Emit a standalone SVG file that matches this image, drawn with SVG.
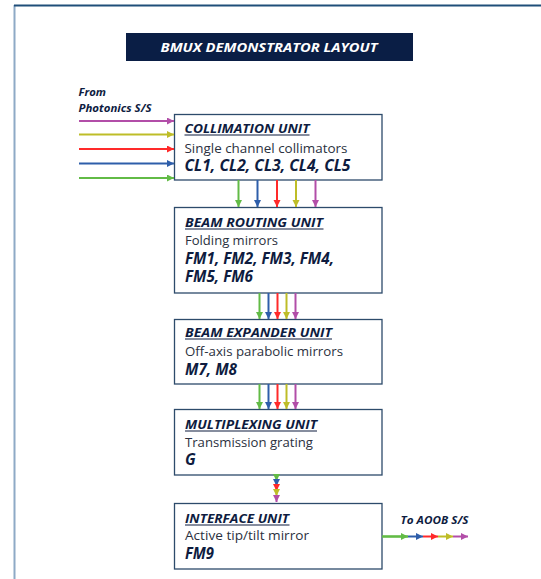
<svg xmlns="http://www.w3.org/2000/svg" width="541" height="579" viewBox="0 0 541 579">
<style>
.box{fill:#fff;stroke:#2d4b6b;stroke-width:1.3}
.t{font-family:"Open Sans","Noto Sans","Liberation Sans",sans-serif;fill:#0e1c3f}
.h{font-weight:bold;font-style:italic;font-size:12.5px}
.r{font-size:13.5px;fill:#2b3140}
.b{font-weight:bold;font-style:italic;font-size:15.5px}
.s{font-weight:bold;font-style:italic;font-size:10px}
.ul{stroke:#0e1c3f;stroke-width:1.2}
.a{stroke-width:2;fill:none}
.g{stroke:#62bb46}.bl{stroke:#2e5eaa}.rd{stroke:#ff2a2a}.y{stroke:#bebd28}.m{stroke:#b24ea8}
</style>
<defs>
<marker id="ag" markerUnits="userSpaceOnUse" markerWidth="8" markerHeight="8" refX="7" refY="3.5" orient="auto"><path d="M0,0 L7,3.5 L0,7 z" fill="#62bb46"/></marker>
<marker id="ab" markerUnits="userSpaceOnUse" markerWidth="8" markerHeight="8" refX="7" refY="3.5" orient="auto"><path d="M0,0 L7,3.5 L0,7 z" fill="#2e5eaa"/></marker>
<marker id="ar" markerUnits="userSpaceOnUse" markerWidth="8" markerHeight="8" refX="7" refY="3.5" orient="auto"><path d="M0,0 L7,3.5 L0,7 z" fill="#ff2a2a"/></marker>
<marker id="ay" markerUnits="userSpaceOnUse" markerWidth="8" markerHeight="8" refX="7" refY="3.5" orient="auto"><path d="M0,0 L7,3.5 L0,7 z" fill="#bebd28"/></marker>
<marker id="am" markerUnits="userSpaceOnUse" markerWidth="8" markerHeight="8" refX="7" refY="3.5" orient="auto"><path d="M0,0 L7,3.5 L0,7 z" fill="#b24ea8"/></marker>
</defs>
<rect width="541" height="579" fill="#fff"/>
<line x1="14.5" y1="5" x2="14.5" y2="579" stroke="#8eaac6" stroke-width="2"/>
<line x1="14" y1="5.5" x2="541" y2="5.5" stroke="#1f4e79" stroke-width="2"/>

<g id="title">
<rect x="126" y="33" width="287" height="28" fill="#0a1e45"/>
<text x="160.5" y="51.5" class="t" style="font-weight:bold;font-style:italic;font-size:12.5px;fill:#fff" textLength="217" lengthAdjust="spacingAndGlyphs">BMUX DEMONSTRATOR  LAYOUT</text>
</g>

<g id="from-label">
<text x="78.5" y="96" class="t s" textLength="27.5" lengthAdjust="spacingAndGlyphs">From</text>
<text x="78.5" y="111.5" class="t s" textLength="73" lengthAdjust="spacingAndGlyphs">Photonics S/S</text>
</g>

<g id="collimation">
<rect x="174.5" y="114.5" width="207.5" height="65.5" class="box"/>
<text x="184.5" y="132.5" class="t h" textLength="125" lengthAdjust="spacingAndGlyphs">COLLIMATION UNIT</text>
<line x1="184.5" y1="135" x2="309.5" y2="135" class="ul"/>
<text x="184.5" y="152.5" class="t r" textLength="163" lengthAdjust="spacingAndGlyphs">Single channel collimators</text>
<text x="184.5" y="171" class="t b" textLength="166" lengthAdjust="spacingAndGlyphs">CL1, CL2, CL3, CL4, CL5</text>
</g>

<g id="beam-routing">
<rect x="174.5" y="207.5" width="207.5" height="85.5" class="box"/>
<text x="185" y="226.5" class="t h" textLength="138" lengthAdjust="spacingAndGlyphs">BEAM ROUTING UNIT</text>
<line x1="185" y1="229" x2="323.5" y2="229" class="ul"/>
<text x="185" y="245" class="t r" textLength="93" lengthAdjust="spacingAndGlyphs">Folding mirrors</text>
<text x="185" y="264" class="t b" textLength="149" lengthAdjust="spacingAndGlyphs">FM1, FM2, FM3, FM4,</text>
<text x="185" y="281.5" class="t b" textLength="68" lengthAdjust="spacingAndGlyphs">FM5, FM6</text>
</g>

<g id="beam-expander">
<rect x="174.5" y="319.5" width="207.5" height="64.5" class="box"/>
<text x="185" y="336.5" class="t h" textLength="147" lengthAdjust="spacingAndGlyphs">BEAM EXPANDER UNIT</text>
<line x1="185" y1="339" x2="332" y2="339" class="ul"/>
<text x="185" y="355.5" class="t r" textLength="158" lengthAdjust="spacingAndGlyphs">Off-axis parabolic mirrors</text>
<text x="185" y="375" class="t b" textLength="52" lengthAdjust="spacingAndGlyphs">M7, M8</text>
</g>

<g id="multiplexing">
<rect x="174.5" y="409.5" width="207.5" height="65.5" class="box"/>
<text x="185" y="428.5" class="t h" textLength="132" lengthAdjust="spacingAndGlyphs">MULTIPLEXING UNIT</text>
<line x1="185" y1="431" x2="317" y2="431" class="ul"/>
<text x="185" y="446.5" class="t r" textLength="128" lengthAdjust="spacingAndGlyphs">Transmission grating</text>
<text x="185" y="465" class="t b">G</text>
</g>

<g id="interface">
<rect x="174.5" y="503.5" width="207.5" height="65.5" class="box"/>
<text x="185" y="522.5" class="t h" textLength="104" lengthAdjust="spacingAndGlyphs">INTERFACE UNIT</text>
<line x1="185" y1="525" x2="289.5" y2="525" class="ul"/>
<text x="185" y="540" class="t r" textLength="124" lengthAdjust="spacingAndGlyphs">Active tip/tilt mirror</text>
<text x="185" y="558.5" class="t b" textLength="29" lengthAdjust="spacingAndGlyphs">FM9</text>
</g>

<g id="to-label">
<text x="400.5" y="523.5" class="t s" textLength="68" lengthAdjust="spacingAndGlyphs">To AOOB S/S</text>
</g>

<g id="connectors">
<line x1="79" y1="121" x2="174" y2="121" class="a m" marker-end="url(#am)"/>
<line x1="79" y1="134.5" x2="174" y2="134.5" class="a y" marker-end="url(#ay)"/>
<line x1="79" y1="149" x2="174" y2="149" class="a rd" marker-end="url(#ar)"/>
<line x1="79" y1="163.5" x2="174" y2="163.5" class="a bl" marker-end="url(#ab)"/>
<line x1="79" y1="178" x2="174" y2="178" class="a g" marker-end="url(#ag)"/>

<line x1="238.5" y1="180" x2="238.5" y2="207" class="a g" marker-end="url(#ag)"/>
<line x1="257.5" y1="180" x2="257.5" y2="207" class="a bl" marker-end="url(#ab)"/>
<line x1="277" y1="180" x2="277" y2="207" class="a rd" marker-end="url(#ar)"/>
<line x1="296" y1="180" x2="296" y2="207" class="a y" marker-end="url(#ay)"/>
<line x1="315.5" y1="180" x2="315.5" y2="207" class="a m" marker-end="url(#am)"/>

<line x1="259.5" y1="293" x2="259.5" y2="319" class="a g" marker-end="url(#ag)"/>
<line x1="268.5" y1="293" x2="268.5" y2="319" class="a bl" marker-end="url(#ab)"/>
<line x1="277.5" y1="293" x2="277.5" y2="319" class="a rd" marker-end="url(#ar)"/>
<line x1="286.5" y1="293" x2="286.5" y2="319" class="a y" marker-end="url(#ay)"/>
<line x1="295.5" y1="293" x2="295.5" y2="319" class="a m" marker-end="url(#am)"/>

<line x1="259.5" y1="384" x2="259.5" y2="409" class="a g" marker-end="url(#ag)"/>
<line x1="268.5" y1="384" x2="268.5" y2="409" class="a bl" marker-end="url(#ab)"/>
<line x1="277.5" y1="384" x2="277.5" y2="409" class="a rd" marker-end="url(#ar)"/>
<line x1="286.5" y1="384" x2="286.5" y2="409" class="a y" marker-end="url(#ay)"/>
<line x1="295.5" y1="384" x2="295.5" y2="409" class="a m" marker-end="url(#am)"/>

<line x1="276.5" y1="475" x2="276.5" y2="481" class="a g" marker-end="url(#ag)"/>
<line x1="276.5" y1="481" x2="276.5" y2="486" class="a bl" marker-end="url(#ab)"/>
<line x1="276.5" y1="486" x2="276.5" y2="491" class="a rd" marker-end="url(#ar)"/>
<line x1="276.5" y1="491" x2="276.5" y2="496" class="a y" marker-end="url(#ay)"/>
<line x1="276.5" y1="496" x2="276.5" y2="502" class="a m" marker-end="url(#am)"/>

<line x1="382" y1="536.5" x2="408" y2="536.5" class="g" stroke-width="2.6" marker-end="url(#ag)"/>
<line x1="408" y1="536.5" x2="423" y2="536.5" class="a bl" marker-end="url(#ab)"/>
<line x1="423" y1="536.5" x2="438" y2="536.5" class="a rd" marker-end="url(#ar)"/>
<line x1="438" y1="536.5" x2="453" y2="536.5" class="a y" marker-end="url(#ay)"/>
<line x1="453" y1="536.5" x2="468" y2="536.5" class="a m" marker-end="url(#am)"/>
</g>
</svg>
